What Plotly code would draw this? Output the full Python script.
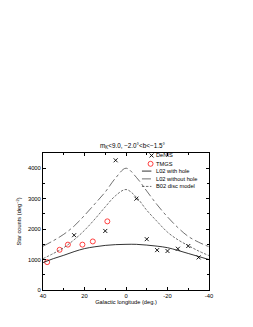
import plotly.graph_objects as go

# Model curves sampled every 5 degrees of Galactic longitude
longitude = [40, 35, 30, 25, 20, 15, 10, 5, 0, -5, -10, -15, -20, -25, -30, -35, -40]
l02_with_hole = [900, 1030, 1140, 1260, 1360, 1420, 1465, 1490, 1500, 1500, 1475, 1440, 1390, 1300, 1200, 1100, 1000]
l02_without_hole = [1440, 1620, 1830, 2100, 2450, 2830, 3220, 3680, 4000, 3700, 3250, 2800, 2400, 2050, 1760, 1570, 1420]
b02_disc = [1030, 1200, 1390, 1650, 1960, 2330, 2730, 3100, 3300, 3050, 2620, 2250, 1900, 1650, 1460, 1280, 1130]

# Observations
denis_l = [25, 10, 5, -5, -10, -15, -20, -25, -30, -35]
denis_counts = [1800, 1940, 4260, 3000, 1670, 1310, 1280, 1355, 1445, 1070]
tmgs_l = [38, 32, 28, 21, 16, 9]
tmgs_counts = [915, 1320, 1490, 1490, 1595, 2255]

x_ticks = [40, 20, 0, -20, -40]
x_tick_text = ["40", "20", "0", "-20", "-40"]
y_ticks = [0, 1000, 2000, 3000, 4000]

legend_names = ["DeNIS", "TMGS", "L02 with hole", "L02 without hole", "B02 disc model"]

FONT = "Liberation Sans, Arial, sans-serif"
TXT = 5.7
RED = "#ff2a2a"

denis_marker = dict(symbol="x-thin", size=4, line=dict(color="black", width=0.9))
tmgs_marker = dict(symbol="circle-open", size=5, color=RED, line=dict(width=0.9))
styles = [
    dict(color="black", width=0.8),
    dict(color="#333", width=0.7, dash="dashdot"),
    dict(color="#333", width=0.7, dash="2.5px,1.5px"),
]

fig = go.Figure()
fig.add_trace(go.Scatter(x=denis_l, y=denis_counts, mode="markers", marker=denis_marker, showlegend=False))
fig.add_trace(go.Scatter(x=tmgs_l, y=tmgs_counts, mode="markers", marker=tmgs_marker, showlegend=False))
for vals, st in zip([l02_with_hole, l02_without_hole, b02_disc], styles):
    fig.add_trace(go.Scatter(x=longitude, y=vals, mode="lines", showlegend=False,
                             line=dict(shape="spline", **st)))

# Hand-made key (plot-area fractions), like the gnuplot key of the original
rows = [0.982, 0.921, 0.868, 0.811, 0.756]
fig.add_trace(go.Scatter(x=[0.654], y=[rows[0]], xaxis="x2", yaxis="y2", mode="markers",
                         marker=denis_marker, showlegend=False, hoverinfo="skip"))
fig.add_trace(go.Scatter(x=[0.648], y=[rows[1]], xaxis="x2", yaxis="y2", mode="markers",
                         marker=tmgs_marker, showlegend=False, hoverinfo="skip"))
for r, st in zip(rows[2:], styles):
    fig.add_trace(go.Scatter(x=[0.596, 0.653], y=[r, r], xaxis="x2", yaxis="y2", mode="lines",
                             line=st, showlegend=False, hoverinfo="skip"))
for r, name in zip(rows, legend_names):
    fig.add_annotation(text=name, x=0.668, y=r, xref="paper", yref="paper", xanchor="left",
                       yanchor="middle", showarrow=False, font=dict(size=TXT))

fig.update_layout(
    width=253, height=327,
    margin=dict(l=35, r=52, t=145, b=45, autoexpand=False),
    paper_bgcolor="white", plot_bgcolor="white",
    font=dict(family=FONT, size=TXT, color="black"),
    title=dict(text="m<sub>K</sub>&lt;9.0, \u22122.0\u00b0&lt;b&lt;\u22121.5\u00b0",
               x=0.492, xanchor="center", y=1 - 137.3 / 327, yanchor="middle",
               font=dict(size=6.3)),
    xaxis=dict(range=[40, -40], tickvals=x_ticks, ticktext=x_tick_text, ticks="inside", ticklen=3,
               showline=True, linecolor="black", linewidth=1, mirror="ticks", showgrid=False,
               zeroline=False, minor=dict(dtick=10, ticks="inside", ticklen=2, tickcolor="black"),
               tickcolor="black", tickfont=dict(size=5.8), automargin=False,
               title=dict(text="Galactic longitude (deg.)", standoff=1, font=dict(size=TXT))),
    yaxis=dict(range=[0, 4500], tickvals=y_ticks, ticks="inside", ticklen=3,
               showline=True, linecolor="black", linewidth=1, mirror="ticks", showgrid=False,
               zeroline=False, minor=dict(dtick=500, ticks="inside", ticklen=2, tickcolor="black"),
               tickcolor="black", tickfont=dict(size=5.8), automargin=False,
               title=dict(text="Star counts (deg<sup>\u22122</sup>)", standoff=5, font=dict(size=TXT))),
    xaxis2=dict(overlaying="x", range=[0, 1], visible=False, anchor="y2"),
    yaxis2=dict(overlaying="y", range=[0, 1], visible=False, anchor="x2"),
)

fig.write_html("out.html")
